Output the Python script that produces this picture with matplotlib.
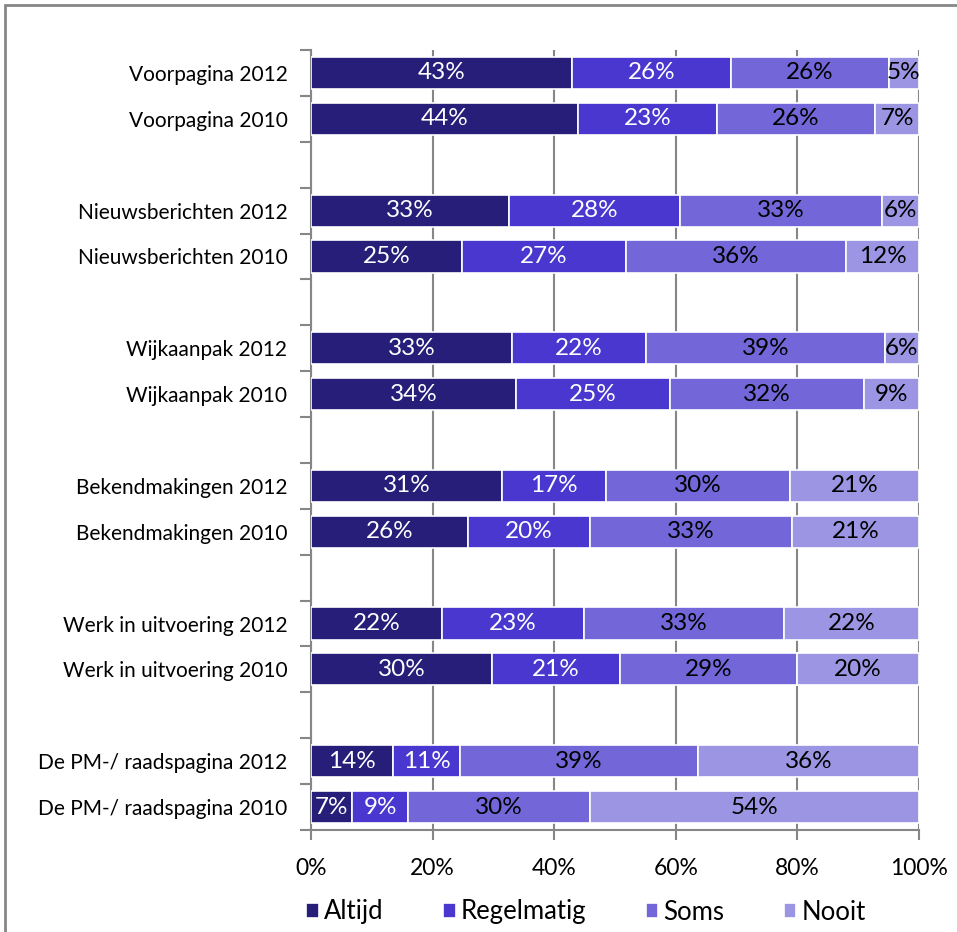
import numpy as np
import matplotlib
matplotlib.use('Agg')
import matplotlib.pyplot as plt
from matplotlib.patches import Rectangle

plt.rcParams['font.family'] = ['Lato', 'DejaVu Sans']

categories = ['Voorpagina 2012', 'Voorpagina 2010',
              'Nieuwsberichten 2012', 'Nieuwsberichten 2010',
              'Wijkaanpak 2012', 'Wijkaanpak 2010',
              'Bekendmakingen 2012', 'Bekendmakingen 2010',
              'Werk in uitvoering 2012', 'Werk in uitvoering 2010',
              'De PM-/ raadspagina 2012', 'De PM-/ raadspagina 2010']
altijd = [43, 43.9, 32.6, 24.8, 33.1, 33.7, 31.4, 25.8, 21.5, 29.8, 13.5, 6.7]
regelmatig = [26, 22.9, 28.1, 27.0, 22.0, 25.3, 17.1, 20.1, 23.4, 21.0, 11.0, 9.3]
soms = [26, 26.0, 33.2, 36.2, 39.3, 32.0, 30.3, 33.2, 32.9, 29.1, 39.2, 29.9]
nooit = [5, 7.2, 6.1, 12.0, 5.6, 9.0, 21.2, 20.9, 22.2, 20.1, 36.3, 54.1]
series_names = ['Altijd', 'Regelmatig', 'Soms', 'Nooit']
colors = ['#261e78', '#4a37cf', '#7266d8', '#9c95e3']
text_colors = ['white', 'white', 'black', 'black']

fig = plt.figure(figsize=(9.57, 9.32), dpi=100)
W, H = 957, 932
ax = fig.add_axes([311 / W, 1 - 830 / H, (919 - 311) / W, (830 - 50) / H])

# 2 bars per group, one empty slot between groups
ypos = []
for g in range(6):
    ypos += [3 * g, 3 * g + 1]
ypos = np.array(ypos)

data = [altijd, regelmatig, soms, nooit]
left = np.zeros(len(categories))
for vals, c, tc, name in zip(data, colors, text_colors, series_names):
    vals = np.array(vals)
    ax.barh(ypos, vals, left=left, height=0.7, color=c, edgecolor='white',
            linewidth=1.2, label=name, zorder=3)
    for y, l, v in zip(ypos, left, vals):
        ax.text(l + v / 2, y, '%.0f%%' % v, ha='center', va='center',
                color=tc, fontsize=17.5, zorder=4)
    left += vals

ax.set_xlim(0, 100)
ax.set_ylim(16.5, -0.5)
ax.set_xticks(np.arange(0, 101, 20))
ax.set_xticklabels(['%d%%' % v for v in range(0, 101, 20)], fontsize=16.5)
ax.set_yticks(np.arange(-0.5, 17, 1))
ax.set_yticklabels([])
ax.set_yticks(ypos, minor=True)
ax.set_yticklabels(categories, minor=True, fontsize=15)
ax.tick_params(axis='y', which='minor', length=0, pad=17)
ax.tick_params(axis='y', which='major', length=8, color='#868686', width=1.5)
ax.tick_params(axis='x', length=7, color='#868686', width=1.5, pad=13)
ax.xaxis.grid(True, color='#868686', linewidth=1.5, zorder=0)
ax.set_axisbelow(True)
for s in ['top', 'right']:
    ax.spines[s].set_visible(False)
for s in ['left', 'bottom']:
    ax.spines[s].set_color('#868686')
    ax.spines[s].set_linewidth(1.5)

fig.legend(loc='center', bbox_to_anchor=(586 / W, 1 - 912 / H), ncol=4,
           frameon=False, fontsize=18.5, handlelength=0.5, handleheight=0.5,
           handletextpad=0.2, columnspacing=2.3)

fig.patches.append(Rectangle((5 / W, -0.1), 1.2, 1.1 - 5 / H, transform=fig.transFigure,
                             fill=False, edgecolor='#868686', linewidth=2))

fig.savefig('out.png', dpi=100)
